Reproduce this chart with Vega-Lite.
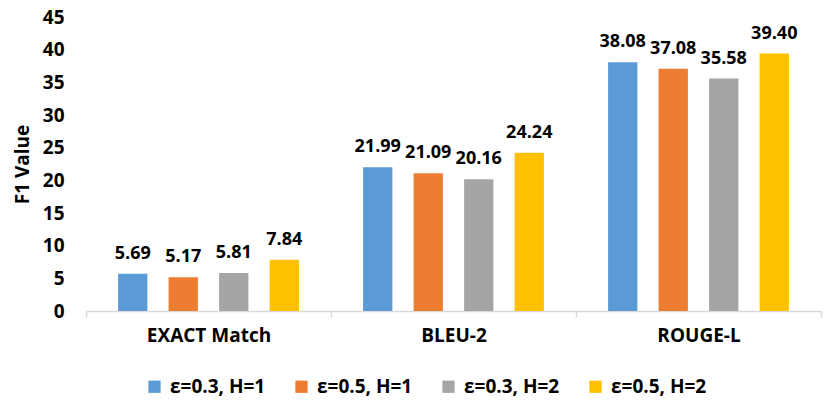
{
  "$schema": "https://vega.github.io/schema/vega-lite/v6.json",
  "width": 735,
  "height": 294,
  "autosize": "none",
  "padding": {"left": 86, "top": 17, "right": 10, "bottom": 90},
  "background": "white",
  "config": {
    "view": {"stroke": null},
    "font": "Open Sans"
  },
  "data": {
    "values": [
      {"metric": "EXACT Match", "setting": "ε=0.3, H=1", "f1": 5.69},
      {"metric": "EXACT Match", "setting": "ε=0.5, H=1", "f1": 5.17},
      {"metric": "EXACT Match", "setting": "ε=0.3, H=2", "f1": 5.81},
      {"metric": "EXACT Match", "setting": "ε=0.5, H=2", "f1": 7.84},
      {"metric": "BLEU-2", "setting": "ε=0.3, H=1", "f1": 21.99},
      {"metric": "BLEU-2", "setting": "ε=0.5, H=1", "f1": 21.09},
      {"metric": "BLEU-2", "setting": "ε=0.3, H=2", "f1": 20.16},
      {"metric": "BLEU-2", "setting": "ε=0.5, H=2", "f1": 24.24},
      {"metric": "ROUGE-L", "setting": "ε=0.3, H=1", "f1": 38.08},
      {"metric": "ROUGE-L", "setting": "ε=0.5, H=1", "f1": 37.08},
      {"metric": "ROUGE-L", "setting": "ε=0.3, H=2", "f1": 35.58},
      {"metric": "ROUGE-L", "setting": "ε=0.5, H=2", "f1": 39.40}
    ]
  },
  "encoding": {
    "x": {
      "field": "metric",
      "type": "nominal",
      "sort": ["EXACT Match", "BLEU-2", "ROUGE-L"],
      "scale": {"paddingInner": 0, "paddingOuter": 0},
      "axis": {
        "title": null,
        "labelAngle": 0,
        "tickBand": "extent",
        "domainColor": "#D9D9D9",
        "domainWidth": 1.5,
        "tickColor": "#D9D9D9",
        "tickWidth": 1.5,
        "tickSize": 6,
        "labelFont": "Open Sans",
        "labelFontWeight": "bold",
        "labelFontSize": 19,
        "labelColor": "#000000",
        "labelPadding": 9
      }
    },
    "xOffset": {
      "field": "setting",
      "sort": ["ε=0.3, H=1", "ε=0.5, H=1", "ε=0.3, H=2", "ε=0.5, H=2"],
      "scale": {"paddingInner": 0.42, "paddingOuter": 0.635}
    },
    "y": {
      "field": "f1",
      "type": "quantitative",
      "scale": {"domain": [0, 45]},
      "axis": {
        "title": "F1 Value",
        "values": [0, 5, 10, 15, 20, 25, 30, 35, 40, 45],
        "grid": false,
        "domain": false,
        "ticks": false,
        "labelFont": "Open Sans",
        "labelFontWeight": "bold",
        "labelFontSize": 19,
        "labelColor": "#000000",
        "labelPadding": 22,
        "titleFont": "Open Sans",
        "titleFontWeight": "bold",
        "titleFontSize": 19,
        "titleColor": "#000000",
        "titlePadding": 10
      }
    }
  },
  "layer": [
    {
      "mark": {"type": "bar"},
      "encoding": {
        "color": {
          "field": "setting",
          "type": "nominal",
          "sort": ["ε=0.3, H=1", "ε=0.5, H=1", "ε=0.3, H=2", "ε=0.5, H=2"],
          "scale": {"range": ["#5B9BD5", "#ED7D31", "#A5A5A5", "#FFC000"]},
          "legend": {
            "title": null,
            "orient": "none",
            "legendX": 59,
            "legendY": 360,
            "direction": "horizontal",
            "columns": 4,
            "columnPadding": 26,
            "symbolType": "square",
            "symbolSize": 150,
            "symbolStrokeWidth": 0,
            "labelFont": "Open Sans",
            "labelFontWeight": "bold",
            "labelFontSize": 19,
            "labelColor": "#000000",
            "labelOffset": 6
          }
        }
      }
    },
    {
      "mark": {
        "type": "text",
        "baseline": "bottom",
        "dy": -11,
        "font": "Open Sans",
        "fontWeight": "bold",
        "fontSize": 18,
        "color": "#000000"
      },
      "encoding": {
        "text": {"field": "f1", "type": "quantitative", "format": ".2f"}
      }
    }
  ]
}
